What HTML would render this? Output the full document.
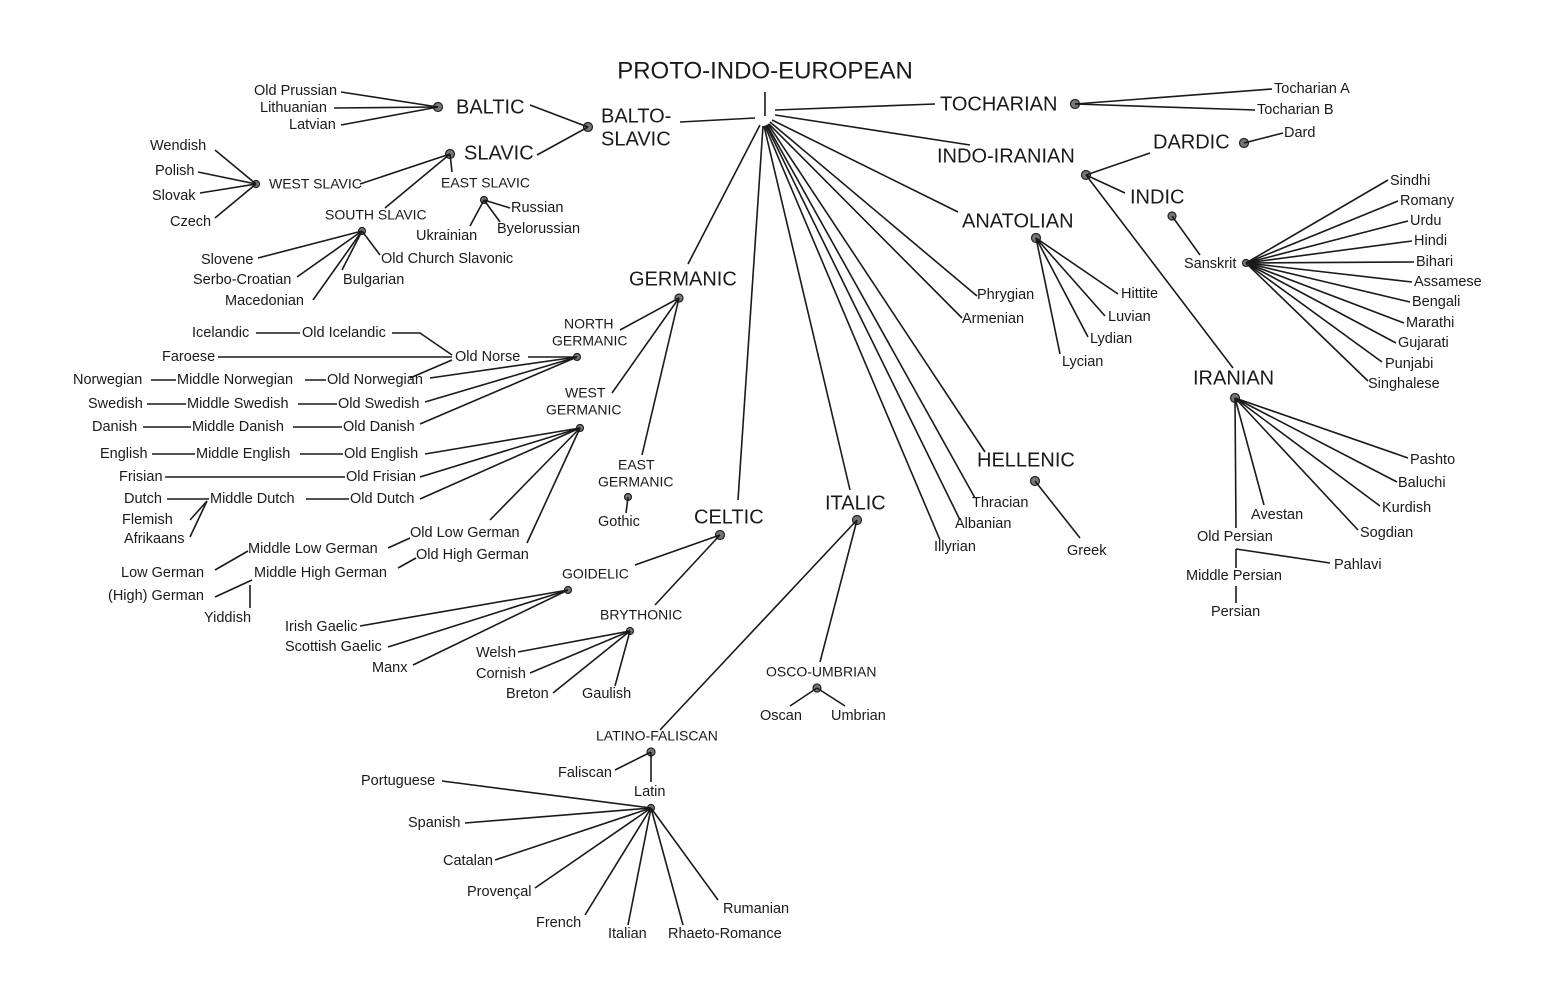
<!DOCTYPE html>
<html><head><meta charset="utf-8"><style>
html,body{margin:0;padding:0;background:#fff;}
svg{display:block}
text{font-family:"Liberation Sans",sans-serif;fill:#1a1a1a;dominant-baseline:middle}
.s{font-size:14.5px}
.m{font-size:14px}
.h{font-size:20px}
line,polyline{stroke:#1a1a1a;stroke-width:1.6;fill:none}
circle{fill:#777;stroke:#222;stroke-width:1.2}
</style></head><body>
<svg width="1561" height="993" viewBox="0 0 1561 993" xmlns="http://www.w3.org/2000/svg">
<text x="765" y="72" class="h" style="font-size:24px" text-anchor="middle">PROTO-INDO-EUROPEAN</text>
<line x1="765" y1="92" x2="765" y2="116"/>
<line x1="755" y1="118" x2="680" y2="122"/>
<line x1="775" y1="110" x2="935" y2="104"/>
<line x1="775" y1="115" x2="970" y2="145"/>
<line x1="772" y1="120" x2="958" y2="212"/>
<line x1="770" y1="122" x2="977" y2="296"/>
<line x1="769" y1="124" x2="962" y2="318"/>
<line x1="768" y1="124" x2="985" y2="452"/>
<line x1="767" y1="125" x2="975" y2="498"/>
<line x1="766" y1="125" x2="960" y2="520"/>
<line x1="765" y1="126" x2="940" y2="540"/>
<line x1="764" y1="126" x2="850" y2="490"/>
<line x1="763" y1="126" x2="738" y2="500"/>
<line x1="760" y1="125" x2="688" y2="264"/>

<text x="601" y="117" class="h">BALTO-</text>
<text x="601" y="140" class="h">SLAVIC</text>
<circle cx="588" cy="127" r="4.5"/>
<line x1="588" y1="127" x2="530" y2="105"/>
<line x1="588" y1="127" x2="537" y2="155"/>
<text x="456" y="108" class="h">BALTIC</text>
<circle cx="438" cy="107" r="4.5"/>
<line x1="341" y1="92" x2="438" y2="107"/><line x1="334" y1="108" x2="438" y2="107"/><line x1="341" y1="125" x2="438" y2="107"/>
<text x="254" y="91" class="s">Old Prussian</text>
<text x="260" y="108" class="s">Lithuanian</text>
<text x="289" y="125" class="s">Latvian</text>
<text x="464" y="154" class="h">SLAVIC</text>
<circle cx="450" cy="154" r="4.5"/>
<line x1="450" y1="154" x2="360" y2="184"/><line x1="450" y1="154" x2="452" y2="172"/><line x1="450" y1="154" x2="385" y2="208"/>
<text x="269" y="185" class="m">WEST SLAVIC</text>
<circle cx="256" cy="184" r="3.5"/>
<line x1="215" y1="150" x2="256" y2="184"/><line x1="198" y1="172" x2="256" y2="184"/><line x1="200" y1="193" x2="256" y2="184"/><line x1="215" y1="218" x2="256" y2="184"/>
<text x="150" y="146" class="s">Wendish</text>
<text x="155" y="171" class="s">Polish</text>
<text x="152" y="196" class="s">Slovak</text>
<text x="170" y="222" class="s">Czech</text>
<text x="441" y="184" class="m">EAST SLAVIC</text>
<circle cx="484" cy="200" r="3.5"/>
<line x1="484" y1="200" x2="510" y2="208"/><line x1="484" y1="200" x2="500" y2="222"/><line x1="484" y1="200" x2="470" y2="226"/>
<text x="511" y="208" class="s">Russian</text>
<text x="416" y="236" class="s">Ukrainian</text>
<text x="497" y="229" class="s">Byelorussian</text>
<text x="325" y="216" class="m">SOUTH SLAVIC</text>
<circle cx="362" cy="231" r="3.5"/>
<line x1="362" y1="231" x2="258" y2="258"/><line x1="362" y1="231" x2="297" y2="277"/><line x1="362" y1="231" x2="313" y2="300"/><line x1="362" y1="231" x2="342" y2="270"/><line x1="362" y1="231" x2="380" y2="255"/>
<text x="201" y="260" class="s">Slovene</text>
<text x="193" y="280" class="s">Serbo-Croatian</text>
<text x="225" y="301" class="s">Macedonian</text>
<text x="343" y="280" class="s">Bulgarian</text>
<text x="381" y="259" class="s">Old Church Slavonic</text>

<text x="940" y="105" class="h">TOCHARIAN</text>
<circle cx="1075" cy="104" r="4.5"/>
<line x1="1075" y1="104" x2="1272" y2="89"/><line x1="1075" y1="104" x2="1255" y2="110"/>
<text x="1274" y="89" class="s">Tocharian A</text>
<text x="1257" y="110" class="s">Tocharian B</text>

<text x="937" y="157" class="h">INDO-IRANIAN</text>
<circle cx="1086" cy="175" r="4.5"/>
<line x1="1086" y1="175" x2="1150" y2="153"/>
<text x="1153" y="143" class="h">DARDIC</text>
<circle cx="1244" cy="143" r="4.5"/>
<line x1="1244" y1="143" x2="1283" y2="133"/>
<text x="1284" y="133" class="s">Dard</text>
<line x1="1086" y1="175" x2="1125" y2="193"/>
<text x="1130" y="198" class="h">INDIC</text>
<circle cx="1172" cy="216" r="4"/>
<line x1="1172" y1="216" x2="1200" y2="255"/>
<text x="1184" y="264" class="s">Sanskrit</text>
<circle cx="1246" cy="263" r="3.5"/>
<line x1="1246" y1="263" x2="1388" y2="180"/><line x1="1246" y1="263" x2="1398" y2="201"/><line x1="1246" y1="263" x2="1408" y2="221"/><line x1="1246" y1="263" x2="1412" y2="241"/><line x1="1246" y1="263" x2="1414" y2="262"/><line x1="1246" y1="263" x2="1412" y2="282"/><line x1="1246" y1="263" x2="1410" y2="302"/><line x1="1246" y1="263" x2="1404" y2="323"/><line x1="1246" y1="263" x2="1396" y2="343"/><line x1="1246" y1="263" x2="1382" y2="362"/><line x1="1246" y1="263" x2="1368" y2="381"/>
<text x="1390" y="181" class="s">Sindhi</text>
<text x="1400" y="201" class="s">Romany</text>
<text x="1410" y="221" class="s">Urdu</text>
<text x="1414" y="241" class="s">Hindi</text>
<text x="1416" y="262" class="s">Bihari</text>
<text x="1414" y="282" class="s">Assamese</text>
<text x="1412" y="302" class="s">Bengali</text>
<text x="1406" y="323" class="s">Marathi</text>
<text x="1398" y="343" class="s">Gujarati</text>
<text x="1385" y="364" class="s">Punjabi</text>
<text x="1368" y="384" class="s">Singhalese</text>
<line x1="1086" y1="175" x2="1233" y2="368"/>
<text x="1193" y="379" class="h">IRANIAN</text>
<circle cx="1235" cy="398" r="4.5"/>
<line x1="1235" y1="398" x2="1408" y2="458"/><line x1="1235" y1="398" x2="1397" y2="482"/><line x1="1235" y1="398" x2="1380" y2="506"/><line x1="1235" y1="398" x2="1358" y2="530"/><line x1="1235" y1="398" x2="1264" y2="505"/><line x1="1235" y1="398" x2="1236" y2="528"/>
<text x="1410" y="460" class="s">Pashto</text>
<text x="1398" y="483" class="s">Baluchi</text>
<text x="1382" y="508" class="s">Kurdish</text>
<text x="1360" y="533" class="s">Sogdian</text>
<text x="1251" y="515" class="s">Avestan</text>
<text x="1197" y="537" class="s">Old Persian</text>
<line x1="1236" y1="549" x2="1330" y2="563"/>
<text x="1334" y="565" class="s">Pahlavi</text>
<line x1="1236" y1="549" x2="1236" y2="568"/>
<text x="1186" y="576" class="s">Middle Persian</text>
<line x1="1236" y1="586" x2="1236" y2="603"/>
<text x="1211" y="612" class="s">Persian</text>

<text x="962" y="222" class="h">ANATOLIAN</text>
<circle cx="1036" cy="238" r="4.5"/>
<line x1="1036" y1="238" x2="1118" y2="294"/><line x1="1036" y1="238" x2="1105" y2="316"/><line x1="1036" y1="238" x2="1088" y2="337"/><line x1="1036" y1="238" x2="1060" y2="354"/>
<text x="1121" y="294" class="s">Hittite</text>
<text x="1108" y="317" class="s">Luvian</text>
<text x="1090" y="339" class="s">Lydian</text>
<text x="1062" y="362" class="s">Lycian</text>
<text x="977" y="295" class="s">Phrygian</text>
<text x="962" y="319" class="s">Armenian</text>
<text x="977" y="461" class="h">HELLENIC</text>
<circle cx="1035" cy="481" r="4.5"/>
<line x1="1035" y1="481" x2="1080" y2="538"/>
<text x="1067" y="551" class="s">Greek</text>
<text x="972" y="503" class="s">Thracian</text>
<text x="955" y="524" class="s">Albanian</text>
<text x="934" y="547" class="s">Illyrian</text>

<text x="629" y="280" class="h">GERMANIC</text>
<circle cx="679" cy="298" r="4"/>
<line x1="679" y1="298" x2="620" y2="330"/><line x1="679" y1="298" x2="612" y2="393"/><line x1="679" y1="298" x2="642" y2="455"/>
<text x="564" y="325" class="m">NORTH</text>
<text x="552" y="342" class="m">GERMANIC</text>
<circle cx="577" cy="357" r="3.5"/>
<line x1="577" y1="357" x2="528" y2="357"/><line x1="577" y1="357" x2="430" y2="378"/><line x1="577" y1="357" x2="425" y2="402"/><line x1="577" y1="357" x2="420" y2="424"/>
<text x="455" y="357" class="s">Old Norse</text>
<polyline points="392,333 420,333 452,355"/>
<line x1="410" y1="378" x2="452" y2="360"/>
<line x1="218" y1="357" x2="452" y2="357"/>
<text x="192" y="333" class="s">Icelandic</text><line x1="256" y1="333" x2="300" y2="333"/><text x="302" y="333" class="s">Old Icelandic</text>
<text x="162" y="357" class="s">Faroese</text>
<text x="73" y="380" class="s">Norwegian</text><line x1="151" y1="380" x2="176" y2="380"/><text x="177" y="380" class="s">Middle Norwegian</text><line x1="305" y1="380" x2="326" y2="380"/><text x="327" y="380" class="s">Old Norwegian</text>
<text x="88" y="404" class="s">Swedish</text><line x1="147" y1="404" x2="186" y2="404"/><text x="187" y="404" class="s">Middle Swedish</text><line x1="298" y1="404" x2="337" y2="404"/><text x="338" y="404" class="s">Old Swedish</text>
<text x="92" y="427" class="s">Danish</text><line x1="143" y1="427" x2="191" y2="427"/><text x="192" y="427" class="s">Middle Danish</text><line x1="293" y1="427" x2="342" y2="427"/><text x="343" y="427" class="s">Old Danish</text>
<text x="565" y="394" class="m">WEST</text>
<text x="546" y="411" class="m">GERMANIC</text>
<circle cx="580" cy="428" r="3.5"/>
<line x1="580" y1="428" x2="425" y2="454"/><line x1="580" y1="428" x2="420" y2="477"/><line x1="580" y1="428" x2="420" y2="499"/><line x1="580" y1="428" x2="527" y2="543"/><line x1="580" y1="428" x2="490" y2="520"/>
<text x="100" y="454" class="s">English</text><line x1="152" y1="454" x2="195" y2="454"/><text x="196" y="454" class="s">Middle English</text><line x1="300" y1="454" x2="343" y2="454"/><text x="344" y="454" class="s">Old English</text>
<text x="119" y="477" class="s">Frisian</text><line x1="165" y1="477" x2="345" y2="477"/><text x="346" y="477" class="s">Old Frisian</text>
<text x="124" y="499" class="s">Dutch</text><line x1="167" y1="499" x2="209" y2="499"/><text x="210" y="499" class="s">Middle Dutch</text><line x1="306" y1="499" x2="349" y2="499"/><text x="350" y="499" class="s">Old Dutch</text>
<line x1="207" y1="501" x2="190" y2="520"/><line x1="207" y1="501" x2="190" y2="537"/>
<text x="122" y="520" class="s">Flemish</text>
<text x="124" y="539" class="s">Afrikaans</text>
<text x="410" y="533" class="s">Old Low German</text>
<text x="416" y="555" class="s">Old High German</text>
<line x1="410" y1="538" x2="388" y2="548"/>
<line x1="416" y1="558" x2="398" y2="568"/>
<text x="248" y="549" class="s">Middle Low German</text>
<text x="254" y="573" class="s">Middle High German</text>
<line x1="248" y1="551" x2="215" y2="570"/>
<line x1="252" y1="580" x2="215" y2="597"/>
<line x1="250" y1="585" x2="250" y2="608"/>
<text x="121" y="573" class="s">Low German</text>
<text x="108" y="596" class="s">(High) German</text>
<text x="204" y="618" class="s">Yiddish</text>
<text x="618" y="466" class="m">EAST</text>
<text x="598" y="483" class="m">GERMANIC</text>
<circle cx="628" cy="497" r="3.5"/>
<line x1="628" y1="497" x2="626" y2="513"/>
<text x="598" y="522" class="s">Gothic</text>

<text x="694" y="518" class="h">CELTIC</text>
<circle cx="720" cy="535" r="4.5"/>
<line x1="720" y1="535" x2="635" y2="565"/><line x1="720" y1="535" x2="655" y2="605"/>
<text x="562" y="575" class="m">GOIDELIC</text>
<circle cx="568" cy="590" r="3.5"/>
<line x1="568" y1="590" x2="360" y2="626"/><line x1="568" y1="590" x2="388" y2="647"/><line x1="568" y1="590" x2="413" y2="665"/>
<text x="285" y="627" class="s">Irish Gaelic</text>
<text x="285" y="647" class="s">Scottish Gaelic</text>
<text x="372" y="668" class="s">Manx</text>
<text x="600" y="616" class="m">BRYTHONIC</text>
<circle cx="630" cy="631" r="3.5"/>
<line x1="630" y1="631" x2="518" y2="652"/><line x1="630" y1="631" x2="530" y2="673"/><line x1="630" y1="631" x2="553" y2="693"/><line x1="630" y1="631" x2="615" y2="686"/>
<text x="476" y="653" class="s">Welsh</text>
<text x="476" y="674" class="s">Cornish</text>
<text x="506" y="694" class="s">Breton</text>
<text x="582" y="694" class="s">Gaulish</text>

<text x="825" y="504" class="h">ITALIC</text>
<circle cx="857" cy="520" r="4.5"/>
<line x1="857" y1="520" x2="820" y2="662"/><line x1="857" y1="520" x2="660" y2="730"/>
<text x="766" y="673" class="m">OSCO-UMBRIAN</text>
<circle cx="817" cy="688" r="4"/>
<line x1="817" y1="688" x2="790" y2="706"/><line x1="817" y1="688" x2="845" y2="706"/>
<text x="760" y="716" class="s">Oscan</text>
<text x="831" y="716" class="s">Umbrian</text>
<text x="596" y="737" class="m">LATINO-FALISCAN</text>
<circle cx="651" cy="752" r="4"/>
<line x1="651" y1="752" x2="615" y2="770"/><line x1="651" y1="752" x2="651" y2="782"/>
<text x="558" y="773" class="s">Faliscan</text>
<text x="634" y="792" class="s">Latin</text>
<circle cx="651" cy="808" r="3.5"/>
<line x1="651" y1="808" x2="442" y2="781"/><line x1="651" y1="808" x2="465" y2="823"/><line x1="651" y1="808" x2="495" y2="860"/><line x1="651" y1="808" x2="535" y2="888"/><line x1="651" y1="808" x2="585" y2="915"/><line x1="651" y1="808" x2="628" y2="925"/><line x1="651" y1="808" x2="683" y2="925"/><line x1="651" y1="808" x2="718" y2="900"/>
<text x="361" y="781" class="s">Portuguese</text>
<text x="408" y="823" class="s">Spanish</text>
<text x="443" y="861" class="s">Catalan</text>
<text x="467" y="892" class="s">Provençal</text>
<text x="536" y="923" class="s">French</text>
<text x="608" y="934" class="s">Italian</text>
<text x="668" y="934" class="s">Rhaeto-Romance</text>
<text x="723" y="909" class="s">Rumanian</text>
</svg>
</body></html>
